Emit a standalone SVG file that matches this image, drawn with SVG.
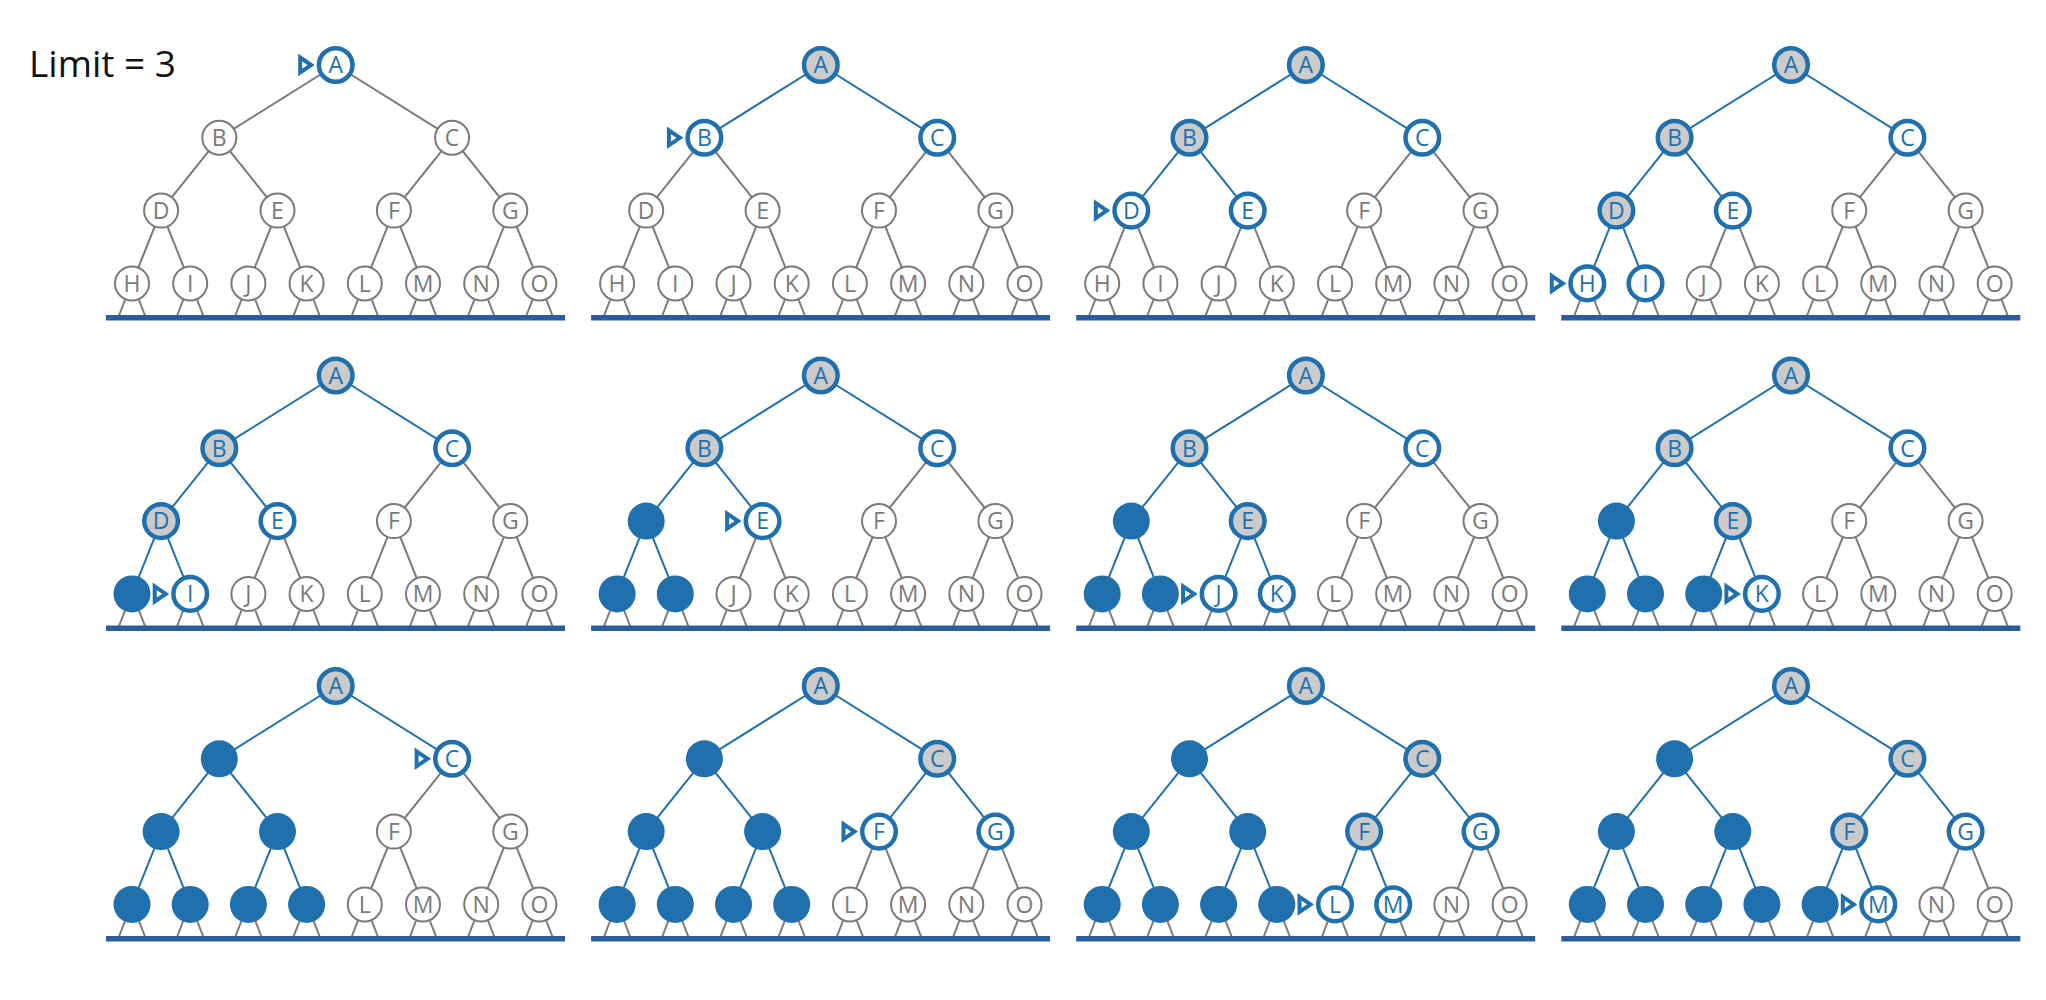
<svg xmlns="http://www.w3.org/2000/svg" xmlns:xlink="http://www.w3.org/1999/xlink" width="2046" height="1000" viewBox="0 0 2046 1000">
<style>
.eu{stroke:#7a7a7a;stroke-width:2}
.eb{stroke:#2170ae;stroke-width:2}
.leg{stroke:#7a7a7a;stroke-width:2}
.nu circle{fill:#fff;stroke:#7a7a7a;stroke-width:2}
.nf circle{fill:#fff;stroke:#2170ae;stroke-width:4.5}
.ne circle{fill:#cbcbcb;stroke:#2170ae;stroke-width:4.5}
.nd circle{fill:#2170ae}
text{font-family:"Open Sans","Noto Sans",sans-serif;font-size:23px;text-anchor:middle}
.nu text{fill:#7a7a7a}
.nf text,.ne text{fill:#2170ae}
.mk{fill:none;stroke:#2170ae;stroke-width:4;stroke-linejoin:miter}
.title{font-size:37px;text-anchor:start;fill:#111}
</style>
<defs>
<g id="base">
<g class="leg">
<line x1="125" y1="300" x2="119" y2="315.5"/><line x1="139" y1="300" x2="145" y2="315.5"/>
<line x1="183.2" y1="300" x2="177.2" y2="315.5"/><line x1="197.2" y1="300" x2="203.2" y2="315.5"/>
<line x1="241.4" y1="300" x2="235.4" y2="315.5"/><line x1="255.4" y1="300" x2="261.4" y2="315.5"/>
<line x1="299.6" y1="300" x2="293.6" y2="315.5"/><line x1="313.6" y1="300" x2="319.6" y2="315.5"/>
<line x1="357.8" y1="300" x2="351.8" y2="315.5"/><line x1="371.8" y1="300" x2="377.8" y2="315.5"/>
<line x1="416" y1="300" x2="410" y2="315.5"/><line x1="430" y1="300" x2="436" y2="315.5"/>
<line x1="474.2" y1="300" x2="468.2" y2="315.5"/><line x1="488.2" y1="300" x2="494.2" y2="315.5"/>
<line x1="532.4" y1="300" x2="526.4" y2="315.5"/><line x1="546.4" y1="300" x2="552.4" y2="315.5"/>
</g>
<rect x="106" y="315" width="459" height="5.5" fill="#2b5d9c"/>
</g>
<path id="mk" class="mk" d="M-35.5,-7.5 L-24.5,0 L-35.5,7.5 Z"/>
</defs>

<text class="title" x="29" y="77">Limit = 3</text>

<!-- Panel 1 -->
<g id="p1">
<use href="#base"/>
<g id="p1-edges">
<line class="eu" x1="335.7" y1="65" x2="219.3" y2="137.8"/><line class="eu" x1="335.7" y1="65" x2="452.1" y2="137.8"/>
<line class="eu" x1="219.3" y1="137.8" x2="161.1" y2="210.6"/><line class="eu" x1="219.3" y1="137.8" x2="277.5" y2="210.6"/>
<line class="eu" x1="452.1" y1="137.8" x2="393.9" y2="210.6"/><line class="eu" x1="452.1" y1="137.8" x2="510.3" y2="210.6"/>
<line class="eu" x1="161.1" y1="210.6" x2="132" y2="283.4"/><line class="eu" x1="161.1" y1="210.6" x2="190.2" y2="283.4"/>
<line class="eu" x1="277.5" y1="210.6" x2="248.4" y2="283.4"/><line class="eu" x1="277.5" y1="210.6" x2="306.6" y2="283.4"/>
<line class="eu" x1="393.9" y1="210.6" x2="364.8" y2="283.4"/><line class="eu" x1="393.9" y1="210.6" x2="423" y2="283.4"/>
<line class="eu" x1="510.3" y1="210.6" x2="481.2" y2="283.4"/><line class="eu" x1="510.3" y1="210.6" x2="539.4" y2="283.4"/>
</g>
<g id="p1-A" class="nf"><circle cx="335.7" cy="65" r="16.8"/><text x="335.7" y="73.2">A</text></g>
<g id="p1-B" class="nu"><circle cx="219.3" cy="137.8" r="17"/><text x="219.3" y="146">B</text></g>
<g id="p1-C" class="nu"><circle cx="452.1" cy="137.8" r="17"/><text x="452.1" y="146">C</text></g>
<g id="p1-D" class="nu"><circle cx="161.1" cy="210.6" r="17"/><text x="161.1" y="218.8">D</text></g>
<g id="p1-E" class="nu"><circle cx="277.5" cy="210.6" r="17"/><text x="277.5" y="218.8">E</text></g>
<g id="p1-F" class="nu"><circle cx="393.9" cy="210.6" r="17"/><text x="393.9" y="218.8">F</text></g>
<g id="p1-G" class="nu"><circle cx="510.3" cy="210.6" r="17"/><text x="510.3" y="218.8">G</text></g>
<g id="p1-H" class="nu"><circle cx="132" cy="283.4" r="17"/><text x="132" y="291.6">H</text></g>
<g id="p1-I" class="nu"><circle cx="190.2" cy="283.4" r="17"/><text x="190.2" y="291.6">I</text></g>
<g id="p1-J" class="nu"><circle cx="248.4" cy="283.4" r="17"/><text x="248.4" y="291.6">J</text></g>
<g id="p1-K" class="nu"><circle cx="306.6" cy="283.4" r="17"/><text x="306.6" y="291.6">K</text></g>
<g id="p1-L" class="nu"><circle cx="364.8" cy="283.4" r="17"/><text x="364.8" y="291.6">L</text></g>
<g id="p1-M" class="nu"><circle cx="423" cy="283.4" r="17"/><text x="423" y="291.6">M</text></g>
<g id="p1-N" class="nu"><circle cx="481.2" cy="283.4" r="17"/><text x="481.2" y="291.6">N</text></g>
<g id="p1-O" class="nu"><circle cx="539.4" cy="283.4" r="17"/><text x="539.4" y="291.6">O</text></g>
<use href="#mk" x="335.7" y="65"/>
</g>

<!-- Panel 2 -->
<g id="p2" transform="translate(485.1,0)">
<use href="#base"/>
<g id="p2-edges">
<line class="eb" x1="335.7" y1="65" x2="219.3" y2="137.8"/><line class="eb" x1="335.7" y1="65" x2="452.1" y2="137.8"/>
<line class="eu" x1="219.3" y1="137.8" x2="161.1" y2="210.6"/><line class="eu" x1="219.3" y1="137.8" x2="277.5" y2="210.6"/>
<line class="eu" x1="452.1" y1="137.8" x2="393.9" y2="210.6"/><line class="eu" x1="452.1" y1="137.8" x2="510.3" y2="210.6"/>
<line class="eu" x1="161.1" y1="210.6" x2="132" y2="283.4"/><line class="eu" x1="161.1" y1="210.6" x2="190.2" y2="283.4"/>
<line class="eu" x1="277.5" y1="210.6" x2="248.4" y2="283.4"/><line class="eu" x1="277.5" y1="210.6" x2="306.6" y2="283.4"/>
<line class="eu" x1="393.9" y1="210.6" x2="364.8" y2="283.4"/><line class="eu" x1="393.9" y1="210.6" x2="423" y2="283.4"/>
<line class="eu" x1="510.3" y1="210.6" x2="481.2" y2="283.4"/><line class="eu" x1="510.3" y1="210.6" x2="539.4" y2="283.4"/>
</g>
<g id="p2-A" class="ne"><circle cx="335.7" cy="65" r="16.8"/><text x="335.7" y="73.2">A</text></g>
<g id="p2-B" class="nf"><circle cx="219.3" cy="137.8" r="16.8"/><text x="219.3" y="146">B</text></g>
<g id="p2-C" class="nf"><circle cx="452.1" cy="137.8" r="16.8"/><text x="452.1" y="146">C</text></g>
<g id="p2-D" class="nu"><circle cx="161.1" cy="210.6" r="17"/><text x="161.1" y="218.8">D</text></g>
<g id="p2-E" class="nu"><circle cx="277.5" cy="210.6" r="17"/><text x="277.5" y="218.8">E</text></g>
<g id="p2-F" class="nu"><circle cx="393.9" cy="210.6" r="17"/><text x="393.9" y="218.8">F</text></g>
<g id="p2-G" class="nu"><circle cx="510.3" cy="210.6" r="17"/><text x="510.3" y="218.8">G</text></g>
<g id="p2-H" class="nu"><circle cx="132" cy="283.4" r="17"/><text x="132" y="291.6">H</text></g>
<g id="p2-I" class="nu"><circle cx="190.2" cy="283.4" r="17"/><text x="190.2" y="291.6">I</text></g>
<g id="p2-J" class="nu"><circle cx="248.4" cy="283.4" r="17"/><text x="248.4" y="291.6">J</text></g>
<g id="p2-K" class="nu"><circle cx="306.6" cy="283.4" r="17"/><text x="306.6" y="291.6">K</text></g>
<g id="p2-L" class="nu"><circle cx="364.8" cy="283.4" r="17"/><text x="364.8" y="291.6">L</text></g>
<g id="p2-M" class="nu"><circle cx="423" cy="283.4" r="17"/><text x="423" y="291.6">M</text></g>
<g id="p2-N" class="nu"><circle cx="481.2" cy="283.4" r="17"/><text x="481.2" y="291.6">N</text></g>
<g id="p2-O" class="nu"><circle cx="539.4" cy="283.4" r="17"/><text x="539.4" y="291.6">O</text></g>
<use href="#mk" x="219.3" y="137.8"/>
</g>

<!-- Panel 3 -->
<g id="p3" transform="translate(970.2,0)">
<use href="#base"/>
<g id="p3-edges">
<line class="eb" x1="335.7" y1="65" x2="219.3" y2="137.8"/><line class="eb" x1="335.7" y1="65" x2="452.1" y2="137.8"/>
<line class="eb" x1="219.3" y1="137.8" x2="161.1" y2="210.6"/><line class="eb" x1="219.3" y1="137.8" x2="277.5" y2="210.6"/>
<line class="eu" x1="452.1" y1="137.8" x2="393.9" y2="210.6"/><line class="eu" x1="452.1" y1="137.8" x2="510.3" y2="210.6"/>
<line class="eu" x1="161.1" y1="210.6" x2="132" y2="283.4"/><line class="eu" x1="161.1" y1="210.6" x2="190.2" y2="283.4"/>
<line class="eu" x1="277.5" y1="210.6" x2="248.4" y2="283.4"/><line class="eu" x1="277.5" y1="210.6" x2="306.6" y2="283.4"/>
<line class="eu" x1="393.9" y1="210.6" x2="364.8" y2="283.4"/><line class="eu" x1="393.9" y1="210.6" x2="423" y2="283.4"/>
<line class="eu" x1="510.3" y1="210.6" x2="481.2" y2="283.4"/><line class="eu" x1="510.3" y1="210.6" x2="539.4" y2="283.4"/>
</g>
<g id="p3-A" class="ne"><circle cx="335.7" cy="65" r="16.8"/><text x="335.7" y="73.2">A</text></g>
<g id="p3-B" class="ne"><circle cx="219.3" cy="137.8" r="16.8"/><text x="219.3" y="146">B</text></g>
<g id="p3-C" class="nf"><circle cx="452.1" cy="137.8" r="16.8"/><text x="452.1" y="146">C</text></g>
<g id="p3-D" class="nf"><circle cx="161.1" cy="210.6" r="16.8"/><text x="161.1" y="218.8">D</text></g>
<g id="p3-E" class="nf"><circle cx="277.5" cy="210.6" r="16.8"/><text x="277.5" y="218.8">E</text></g>
<g id="p3-F" class="nu"><circle cx="393.9" cy="210.6" r="17"/><text x="393.9" y="218.8">F</text></g>
<g id="p3-G" class="nu"><circle cx="510.3" cy="210.6" r="17"/><text x="510.3" y="218.8">G</text></g>
<g id="p3-H" class="nu"><circle cx="132" cy="283.4" r="17"/><text x="132" y="291.6">H</text></g>
<g id="p3-I" class="nu"><circle cx="190.2" cy="283.4" r="17"/><text x="190.2" y="291.6">I</text></g>
<g id="p3-J" class="nu"><circle cx="248.4" cy="283.4" r="17"/><text x="248.4" y="291.6">J</text></g>
<g id="p3-K" class="nu"><circle cx="306.6" cy="283.4" r="17"/><text x="306.6" y="291.6">K</text></g>
<g id="p3-L" class="nu"><circle cx="364.8" cy="283.4" r="17"/><text x="364.8" y="291.6">L</text></g>
<g id="p3-M" class="nu"><circle cx="423" cy="283.4" r="17"/><text x="423" y="291.6">M</text></g>
<g id="p3-N" class="nu"><circle cx="481.2" cy="283.4" r="17"/><text x="481.2" y="291.6">N</text></g>
<g id="p3-O" class="nu"><circle cx="539.4" cy="283.4" r="17"/><text x="539.4" y="291.6">O</text></g>
<use href="#mk" x="161.1" y="210.6"/>
</g>

<!-- Panel 4 -->
<g id="p4" transform="translate(1455.3,0)">
<use href="#base"/>
<g id="p4-edges">
<line class="eb" x1="335.7" y1="65" x2="219.3" y2="137.8"/><line class="eb" x1="335.7" y1="65" x2="452.1" y2="137.8"/>
<line class="eb" x1="219.3" y1="137.8" x2="161.1" y2="210.6"/><line class="eb" x1="219.3" y1="137.8" x2="277.5" y2="210.6"/>
<line class="eu" x1="452.1" y1="137.8" x2="393.9" y2="210.6"/><line class="eu" x1="452.1" y1="137.8" x2="510.3" y2="210.6"/>
<line class="eb" x1="161.1" y1="210.6" x2="132" y2="283.4"/><line class="eb" x1="161.1" y1="210.6" x2="190.2" y2="283.4"/>
<line class="eu" x1="277.5" y1="210.6" x2="248.4" y2="283.4"/><line class="eu" x1="277.5" y1="210.6" x2="306.6" y2="283.4"/>
<line class="eu" x1="393.9" y1="210.6" x2="364.8" y2="283.4"/><line class="eu" x1="393.9" y1="210.6" x2="423" y2="283.4"/>
<line class="eu" x1="510.3" y1="210.6" x2="481.2" y2="283.4"/><line class="eu" x1="510.3" y1="210.6" x2="539.4" y2="283.4"/>
</g>
<g id="p4-A" class="ne"><circle cx="335.7" cy="65" r="16.8"/><text x="335.7" y="73.2">A</text></g>
<g id="p4-B" class="ne"><circle cx="219.3" cy="137.8" r="16.8"/><text x="219.3" y="146">B</text></g>
<g id="p4-C" class="nf"><circle cx="452.1" cy="137.8" r="16.8"/><text x="452.1" y="146">C</text></g>
<g id="p4-D" class="ne"><circle cx="161.1" cy="210.6" r="16.8"/><text x="161.1" y="218.8">D</text></g>
<g id="p4-E" class="nf"><circle cx="277.5" cy="210.6" r="16.8"/><text x="277.5" y="218.8">E</text></g>
<g id="p4-F" class="nu"><circle cx="393.9" cy="210.6" r="17"/><text x="393.9" y="218.8">F</text></g>
<g id="p4-G" class="nu"><circle cx="510.3" cy="210.6" r="17"/><text x="510.3" y="218.8">G</text></g>
<g id="p4-H" class="nf"><circle cx="132" cy="283.4" r="16.8"/><text x="132" y="291.6">H</text></g>
<g id="p4-I" class="nf"><circle cx="190.2" cy="283.4" r="16.8"/><text x="190.2" y="291.6">I</text></g>
<g id="p4-J" class="nu"><circle cx="248.4" cy="283.4" r="17"/><text x="248.4" y="291.6">J</text></g>
<g id="p4-K" class="nu"><circle cx="306.6" cy="283.4" r="17"/><text x="306.6" y="291.6">K</text></g>
<g id="p4-L" class="nu"><circle cx="364.8" cy="283.4" r="17"/><text x="364.8" y="291.6">L</text></g>
<g id="p4-M" class="nu"><circle cx="423" cy="283.4" r="17"/><text x="423" y="291.6">M</text></g>
<g id="p4-N" class="nu"><circle cx="481.2" cy="283.4" r="17"/><text x="481.2" y="291.6">N</text></g>
<g id="p4-O" class="nu"><circle cx="539.4" cy="283.4" r="17"/><text x="539.4" y="291.6">O</text></g>
<use href="#mk" x="132" y="283.4"/>
</g>

<!-- Panel 5 -->
<g id="p5" transform="translate(0,310.5)">
<use href="#base"/>
<g id="p5-edges">
<line class="eb" x1="335.7" y1="65" x2="219.3" y2="137.8"/><line class="eb" x1="335.7" y1="65" x2="452.1" y2="137.8"/>
<line class="eb" x1="219.3" y1="137.8" x2="161.1" y2="210.6"/><line class="eb" x1="219.3" y1="137.8" x2="277.5" y2="210.6"/>
<line class="eu" x1="452.1" y1="137.8" x2="393.9" y2="210.6"/><line class="eu" x1="452.1" y1="137.8" x2="510.3" y2="210.6"/>
<line class="eb" x1="161.1" y1="210.6" x2="132" y2="283.4"/><line class="eb" x1="161.1" y1="210.6" x2="190.2" y2="283.4"/>
<line class="eu" x1="277.5" y1="210.6" x2="248.4" y2="283.4"/><line class="eu" x1="277.5" y1="210.6" x2="306.6" y2="283.4"/>
<line class="eu" x1="393.9" y1="210.6" x2="364.8" y2="283.4"/><line class="eu" x1="393.9" y1="210.6" x2="423" y2="283.4"/>
<line class="eu" x1="510.3" y1="210.6" x2="481.2" y2="283.4"/><line class="eu" x1="510.3" y1="210.6" x2="539.4" y2="283.4"/>
</g>
<g id="p5-A" class="ne"><circle cx="335.7" cy="65" r="16.8"/><text x="335.7" y="73.2">A</text></g>
<g id="p5-B" class="ne"><circle cx="219.3" cy="137.8" r="16.8"/><text x="219.3" y="146">B</text></g>
<g id="p5-C" class="nf"><circle cx="452.1" cy="137.8" r="16.8"/><text x="452.1" y="146">C</text></g>
<g id="p5-D" class="ne"><circle cx="161.1" cy="210.6" r="16.8"/><text x="161.1" y="218.8">D</text></g>
<g id="p5-E" class="nf"><circle cx="277.5" cy="210.6" r="16.8"/><text x="277.5" y="218.8">E</text></g>
<g id="p5-F" class="nu"><circle cx="393.9" cy="210.6" r="17"/><text x="393.9" y="218.8">F</text></g>
<g id="p5-G" class="nu"><circle cx="510.3" cy="210.6" r="17"/><text x="510.3" y="218.8">G</text></g>
<g id="p5-H" class="nd"><circle cx="132" cy="283.4" r="18.5"/></g>
<g id="p5-I" class="nf"><circle cx="190.2" cy="283.4" r="16.8"/><text x="190.2" y="291.6">I</text></g>
<g id="p5-J" class="nu"><circle cx="248.4" cy="283.4" r="17"/><text x="248.4" y="291.6">J</text></g>
<g id="p5-K" class="nu"><circle cx="306.6" cy="283.4" r="17"/><text x="306.6" y="291.6">K</text></g>
<g id="p5-L" class="nu"><circle cx="364.8" cy="283.4" r="17"/><text x="364.8" y="291.6">L</text></g>
<g id="p5-M" class="nu"><circle cx="423" cy="283.4" r="17"/><text x="423" y="291.6">M</text></g>
<g id="p5-N" class="nu"><circle cx="481.2" cy="283.4" r="17"/><text x="481.2" y="291.6">N</text></g>
<g id="p5-O" class="nu"><circle cx="539.4" cy="283.4" r="17"/><text x="539.4" y="291.6">O</text></g>
<use href="#mk" x="190.2" y="283.4"/>
</g>

<!-- Panel 6 -->
<g id="p6" transform="translate(485.1,310.5)">
<use href="#base"/>
<g id="p6-edges">
<line class="eb" x1="335.7" y1="65" x2="219.3" y2="137.8"/><line class="eb" x1="335.7" y1="65" x2="452.1" y2="137.8"/>
<line class="eb" x1="219.3" y1="137.8" x2="161.1" y2="210.6"/><line class="eb" x1="219.3" y1="137.8" x2="277.5" y2="210.6"/>
<line class="eu" x1="452.1" y1="137.8" x2="393.9" y2="210.6"/><line class="eu" x1="452.1" y1="137.8" x2="510.3" y2="210.6"/>
<line class="eb" x1="161.1" y1="210.6" x2="132" y2="283.4"/><line class="eb" x1="161.1" y1="210.6" x2="190.2" y2="283.4"/>
<line class="eu" x1="277.5" y1="210.6" x2="248.4" y2="283.4"/><line class="eu" x1="277.5" y1="210.6" x2="306.6" y2="283.4"/>
<line class="eu" x1="393.9" y1="210.6" x2="364.8" y2="283.4"/><line class="eu" x1="393.9" y1="210.6" x2="423" y2="283.4"/>
<line class="eu" x1="510.3" y1="210.6" x2="481.2" y2="283.4"/><line class="eu" x1="510.3" y1="210.6" x2="539.4" y2="283.4"/>
</g>
<g id="p6-A" class="ne"><circle cx="335.7" cy="65" r="16.8"/><text x="335.7" y="73.2">A</text></g>
<g id="p6-B" class="ne"><circle cx="219.3" cy="137.8" r="16.8"/><text x="219.3" y="146">B</text></g>
<g id="p6-C" class="nf"><circle cx="452.1" cy="137.8" r="16.8"/><text x="452.1" y="146">C</text></g>
<g id="p6-D" class="nd"><circle cx="161.1" cy="210.6" r="18.5"/></g>
<g id="p6-E" class="nf"><circle cx="277.5" cy="210.6" r="16.8"/><text x="277.5" y="218.8">E</text></g>
<g id="p6-F" class="nu"><circle cx="393.9" cy="210.6" r="17"/><text x="393.9" y="218.8">F</text></g>
<g id="p6-G" class="nu"><circle cx="510.3" cy="210.6" r="17"/><text x="510.3" y="218.8">G</text></g>
<g id="p6-H" class="nd"><circle cx="132" cy="283.4" r="18.5"/></g>
<g id="p6-I" class="nd"><circle cx="190.2" cy="283.4" r="18.5"/></g>
<g id="p6-J" class="nu"><circle cx="248.4" cy="283.4" r="17"/><text x="248.4" y="291.6">J</text></g>
<g id="p6-K" class="nu"><circle cx="306.6" cy="283.4" r="17"/><text x="306.6" y="291.6">K</text></g>
<g id="p6-L" class="nu"><circle cx="364.8" cy="283.4" r="17"/><text x="364.8" y="291.6">L</text></g>
<g id="p6-M" class="nu"><circle cx="423" cy="283.4" r="17"/><text x="423" y="291.6">M</text></g>
<g id="p6-N" class="nu"><circle cx="481.2" cy="283.4" r="17"/><text x="481.2" y="291.6">N</text></g>
<g id="p6-O" class="nu"><circle cx="539.4" cy="283.4" r="17"/><text x="539.4" y="291.6">O</text></g>
<use href="#mk" x="277.5" y="210.6"/>
</g>

<!-- Panel 7 -->
<g id="p7" transform="translate(970.2,310.5)">
<use href="#base"/>
<g id="p7-edges">
<line class="eb" x1="335.7" y1="65" x2="219.3" y2="137.8"/><line class="eb" x1="335.7" y1="65" x2="452.1" y2="137.8"/>
<line class="eb" x1="219.3" y1="137.8" x2="161.1" y2="210.6"/><line class="eb" x1="219.3" y1="137.8" x2="277.5" y2="210.6"/>
<line class="eu" x1="452.1" y1="137.8" x2="393.9" y2="210.6"/><line class="eu" x1="452.1" y1="137.8" x2="510.3" y2="210.6"/>
<line class="eb" x1="161.1" y1="210.6" x2="132" y2="283.4"/><line class="eb" x1="161.1" y1="210.6" x2="190.2" y2="283.4"/>
<line class="eb" x1="277.5" y1="210.6" x2="248.4" y2="283.4"/><line class="eb" x1="277.5" y1="210.6" x2="306.6" y2="283.4"/>
<line class="eu" x1="393.9" y1="210.6" x2="364.8" y2="283.4"/><line class="eu" x1="393.9" y1="210.6" x2="423" y2="283.4"/>
<line class="eu" x1="510.3" y1="210.6" x2="481.2" y2="283.4"/><line class="eu" x1="510.3" y1="210.6" x2="539.4" y2="283.4"/>
</g>
<g id="p7-A" class="ne"><circle cx="335.7" cy="65" r="16.8"/><text x="335.7" y="73.2">A</text></g>
<g id="p7-B" class="ne"><circle cx="219.3" cy="137.8" r="16.8"/><text x="219.3" y="146">B</text></g>
<g id="p7-C" class="nf"><circle cx="452.1" cy="137.8" r="16.8"/><text x="452.1" y="146">C</text></g>
<g id="p7-D" class="nd"><circle cx="161.1" cy="210.6" r="18.5"/></g>
<g id="p7-E" class="ne"><circle cx="277.5" cy="210.6" r="16.8"/><text x="277.5" y="218.8">E</text></g>
<g id="p7-F" class="nu"><circle cx="393.9" cy="210.6" r="17"/><text x="393.9" y="218.8">F</text></g>
<g id="p7-G" class="nu"><circle cx="510.3" cy="210.6" r="17"/><text x="510.3" y="218.8">G</text></g>
<g id="p7-H" class="nd"><circle cx="132" cy="283.4" r="18.5"/></g>
<g id="p7-I" class="nd"><circle cx="190.2" cy="283.4" r="18.5"/></g>
<g id="p7-J" class="nf"><circle cx="248.4" cy="283.4" r="16.8"/><text x="248.4" y="291.6">J</text></g>
<g id="p7-K" class="nf"><circle cx="306.6" cy="283.4" r="16.8"/><text x="306.6" y="291.6">K</text></g>
<g id="p7-L" class="nu"><circle cx="364.8" cy="283.4" r="17"/><text x="364.8" y="291.6">L</text></g>
<g id="p7-M" class="nu"><circle cx="423" cy="283.4" r="17"/><text x="423" y="291.6">M</text></g>
<g id="p7-N" class="nu"><circle cx="481.2" cy="283.4" r="17"/><text x="481.2" y="291.6">N</text></g>
<g id="p7-O" class="nu"><circle cx="539.4" cy="283.4" r="17"/><text x="539.4" y="291.6">O</text></g>
<use href="#mk" x="248.4" y="283.4"/>
</g>

<!-- Panel 8 -->
<g id="p8" transform="translate(1455.3,310.5)">
<use href="#base"/>
<g id="p8-edges">
<line class="eb" x1="335.7" y1="65" x2="219.3" y2="137.8"/><line class="eb" x1="335.7" y1="65" x2="452.1" y2="137.8"/>
<line class="eb" x1="219.3" y1="137.8" x2="161.1" y2="210.6"/><line class="eb" x1="219.3" y1="137.8" x2="277.5" y2="210.6"/>
<line class="eu" x1="452.1" y1="137.8" x2="393.9" y2="210.6"/><line class="eu" x1="452.1" y1="137.8" x2="510.3" y2="210.6"/>
<line class="eb" x1="161.1" y1="210.6" x2="132" y2="283.4"/><line class="eb" x1="161.1" y1="210.6" x2="190.2" y2="283.4"/>
<line class="eb" x1="277.5" y1="210.6" x2="248.4" y2="283.4"/><line class="eb" x1="277.5" y1="210.6" x2="306.6" y2="283.4"/>
<line class="eu" x1="393.9" y1="210.6" x2="364.8" y2="283.4"/><line class="eu" x1="393.9" y1="210.6" x2="423" y2="283.4"/>
<line class="eu" x1="510.3" y1="210.6" x2="481.2" y2="283.4"/><line class="eu" x1="510.3" y1="210.6" x2="539.4" y2="283.4"/>
</g>
<g id="p8-A" class="ne"><circle cx="335.7" cy="65" r="16.8"/><text x="335.7" y="73.2">A</text></g>
<g id="p8-B" class="ne"><circle cx="219.3" cy="137.8" r="16.8"/><text x="219.3" y="146">B</text></g>
<g id="p8-C" class="nf"><circle cx="452.1" cy="137.8" r="16.8"/><text x="452.1" y="146">C</text></g>
<g id="p8-D" class="nd"><circle cx="161.1" cy="210.6" r="18.5"/></g>
<g id="p8-E" class="ne"><circle cx="277.5" cy="210.6" r="16.8"/><text x="277.5" y="218.8">E</text></g>
<g id="p8-F" class="nu"><circle cx="393.9" cy="210.6" r="17"/><text x="393.9" y="218.8">F</text></g>
<g id="p8-G" class="nu"><circle cx="510.3" cy="210.6" r="17"/><text x="510.3" y="218.8">G</text></g>
<g id="p8-H" class="nd"><circle cx="132" cy="283.4" r="18.5"/></g>
<g id="p8-I" class="nd"><circle cx="190.2" cy="283.4" r="18.5"/></g>
<g id="p8-J" class="nd"><circle cx="248.4" cy="283.4" r="18.5"/></g>
<g id="p8-K" class="nf"><circle cx="306.6" cy="283.4" r="16.8"/><text x="306.6" y="291.6">K</text></g>
<g id="p8-L" class="nu"><circle cx="364.8" cy="283.4" r="17"/><text x="364.8" y="291.6">L</text></g>
<g id="p8-M" class="nu"><circle cx="423" cy="283.4" r="17"/><text x="423" y="291.6">M</text></g>
<g id="p8-N" class="nu"><circle cx="481.2" cy="283.4" r="17"/><text x="481.2" y="291.6">N</text></g>
<g id="p8-O" class="nu"><circle cx="539.4" cy="283.4" r="17"/><text x="539.4" y="291.6">O</text></g>
<use href="#mk" x="306.6" y="283.4"/>
</g>

<!-- Panel 9 -->
<g id="p9" transform="translate(0,621)">
<use href="#base"/>
<g id="p9-edges">
<line class="eb" x1="335.7" y1="65" x2="219.3" y2="137.8"/><line class="eb" x1="335.7" y1="65" x2="452.1" y2="137.8"/>
<line class="eb" x1="219.3" y1="137.8" x2="161.1" y2="210.6"/><line class="eb" x1="219.3" y1="137.8" x2="277.5" y2="210.6"/>
<line class="eu" x1="452.1" y1="137.8" x2="393.9" y2="210.6"/><line class="eu" x1="452.1" y1="137.8" x2="510.3" y2="210.6"/>
<line class="eb" x1="161.1" y1="210.6" x2="132" y2="283.4"/><line class="eb" x1="161.1" y1="210.6" x2="190.2" y2="283.4"/>
<line class="eb" x1="277.5" y1="210.6" x2="248.4" y2="283.4"/><line class="eb" x1="277.5" y1="210.6" x2="306.6" y2="283.4"/>
<line class="eu" x1="393.9" y1="210.6" x2="364.8" y2="283.4"/><line class="eu" x1="393.9" y1="210.6" x2="423" y2="283.4"/>
<line class="eu" x1="510.3" y1="210.6" x2="481.2" y2="283.4"/><line class="eu" x1="510.3" y1="210.6" x2="539.4" y2="283.4"/>
</g>
<g id="p9-A" class="ne"><circle cx="335.7" cy="65" r="16.8"/><text x="335.7" y="73.2">A</text></g>
<g id="p9-B" class="nd"><circle cx="219.3" cy="137.8" r="18.5"/></g>
<g id="p9-C" class="nf"><circle cx="452.1" cy="137.8" r="16.8"/><text x="452.1" y="146">C</text></g>
<g id="p9-D" class="nd"><circle cx="161.1" cy="210.6" r="18.5"/></g>
<g id="p9-E" class="nd"><circle cx="277.5" cy="210.6" r="18.5"/></g>
<g id="p9-F" class="nu"><circle cx="393.9" cy="210.6" r="17"/><text x="393.9" y="218.8">F</text></g>
<g id="p9-G" class="nu"><circle cx="510.3" cy="210.6" r="17"/><text x="510.3" y="218.8">G</text></g>
<g id="p9-H" class="nd"><circle cx="132" cy="283.4" r="18.5"/></g>
<g id="p9-I" class="nd"><circle cx="190.2" cy="283.4" r="18.5"/></g>
<g id="p9-J" class="nd"><circle cx="248.4" cy="283.4" r="18.5"/></g>
<g id="p9-K" class="nd"><circle cx="306.6" cy="283.4" r="18.5"/></g>
<g id="p9-L" class="nu"><circle cx="364.8" cy="283.4" r="17"/><text x="364.8" y="291.6">L</text></g>
<g id="p9-M" class="nu"><circle cx="423" cy="283.4" r="17"/><text x="423" y="291.6">M</text></g>
<g id="p9-N" class="nu"><circle cx="481.2" cy="283.4" r="17"/><text x="481.2" y="291.6">N</text></g>
<g id="p9-O" class="nu"><circle cx="539.4" cy="283.4" r="17"/><text x="539.4" y="291.6">O</text></g>
<use href="#mk" x="452.1" y="137.8"/>
</g>

<!-- Panel 10 -->
<g id="p10" transform="translate(485.1,621)">
<use href="#base"/>
<g id="p10-edges">
<line class="eb" x1="335.7" y1="65" x2="219.3" y2="137.8"/><line class="eb" x1="335.7" y1="65" x2="452.1" y2="137.8"/>
<line class="eb" x1="219.3" y1="137.8" x2="161.1" y2="210.6"/><line class="eb" x1="219.3" y1="137.8" x2="277.5" y2="210.6"/>
<line class="eb" x1="452.1" y1="137.8" x2="393.9" y2="210.6"/><line class="eb" x1="452.1" y1="137.8" x2="510.3" y2="210.6"/>
<line class="eb" x1="161.1" y1="210.6" x2="132" y2="283.4"/><line class="eb" x1="161.1" y1="210.6" x2="190.2" y2="283.4"/>
<line class="eb" x1="277.5" y1="210.6" x2="248.4" y2="283.4"/><line class="eb" x1="277.5" y1="210.6" x2="306.6" y2="283.4"/>
<line class="eu" x1="393.9" y1="210.6" x2="364.8" y2="283.4"/><line class="eu" x1="393.9" y1="210.6" x2="423" y2="283.4"/>
<line class="eu" x1="510.3" y1="210.6" x2="481.2" y2="283.4"/><line class="eu" x1="510.3" y1="210.6" x2="539.4" y2="283.4"/>
</g>
<g id="p10-A" class="ne"><circle cx="335.7" cy="65" r="16.8"/><text x="335.7" y="73.2">A</text></g>
<g id="p10-B" class="nd"><circle cx="219.3" cy="137.8" r="18.5"/></g>
<g id="p10-C" class="ne"><circle cx="452.1" cy="137.8" r="16.8"/><text x="452.1" y="146">C</text></g>
<g id="p10-D" class="nd"><circle cx="161.1" cy="210.6" r="18.5"/></g>
<g id="p10-E" class="nd"><circle cx="277.5" cy="210.6" r="18.5"/></g>
<g id="p10-F" class="nf"><circle cx="393.9" cy="210.6" r="16.8"/><text x="393.9" y="218.8">F</text></g>
<g id="p10-G" class="nf"><circle cx="510.3" cy="210.6" r="16.8"/><text x="510.3" y="218.8">G</text></g>
<g id="p10-H" class="nd"><circle cx="132" cy="283.4" r="18.5"/></g>
<g id="p10-I" class="nd"><circle cx="190.2" cy="283.4" r="18.5"/></g>
<g id="p10-J" class="nd"><circle cx="248.4" cy="283.4" r="18.5"/></g>
<g id="p10-K" class="nd"><circle cx="306.6" cy="283.4" r="18.5"/></g>
<g id="p10-L" class="nu"><circle cx="364.8" cy="283.4" r="17"/><text x="364.8" y="291.6">L</text></g>
<g id="p10-M" class="nu"><circle cx="423" cy="283.4" r="17"/><text x="423" y="291.6">M</text></g>
<g id="p10-N" class="nu"><circle cx="481.2" cy="283.4" r="17"/><text x="481.2" y="291.6">N</text></g>
<g id="p10-O" class="nu"><circle cx="539.4" cy="283.4" r="17"/><text x="539.4" y="291.6">O</text></g>
<use href="#mk" x="393.9" y="210.6"/>
</g>

<!-- Panel 11 -->
<g id="p11" transform="translate(970.2,621)">
<use href="#base"/>
<g id="p11-edges">
<line class="eb" x1="335.7" y1="65" x2="219.3" y2="137.8"/><line class="eb" x1="335.7" y1="65" x2="452.1" y2="137.8"/>
<line class="eb" x1="219.3" y1="137.8" x2="161.1" y2="210.6"/><line class="eb" x1="219.3" y1="137.8" x2="277.5" y2="210.6"/>
<line class="eb" x1="452.1" y1="137.8" x2="393.9" y2="210.6"/><line class="eb" x1="452.1" y1="137.8" x2="510.3" y2="210.6"/>
<line class="eb" x1="161.1" y1="210.6" x2="132" y2="283.4"/><line class="eb" x1="161.1" y1="210.6" x2="190.2" y2="283.4"/>
<line class="eb" x1="277.5" y1="210.6" x2="248.4" y2="283.4"/><line class="eb" x1="277.5" y1="210.6" x2="306.6" y2="283.4"/>
<line class="eb" x1="393.9" y1="210.6" x2="364.8" y2="283.4"/><line class="eb" x1="393.9" y1="210.6" x2="423" y2="283.4"/>
<line class="eu" x1="510.3" y1="210.6" x2="481.2" y2="283.4"/><line class="eu" x1="510.3" y1="210.6" x2="539.4" y2="283.4"/>
</g>
<g id="p11-A" class="ne"><circle cx="335.7" cy="65" r="16.8"/><text x="335.7" y="73.2">A</text></g>
<g id="p11-B" class="nd"><circle cx="219.3" cy="137.8" r="18.5"/></g>
<g id="p11-C" class="ne"><circle cx="452.1" cy="137.8" r="16.8"/><text x="452.1" y="146">C</text></g>
<g id="p11-D" class="nd"><circle cx="161.1" cy="210.6" r="18.5"/></g>
<g id="p11-E" class="nd"><circle cx="277.5" cy="210.6" r="18.5"/></g>
<g id="p11-F" class="ne"><circle cx="393.9" cy="210.6" r="16.8"/><text x="393.9" y="218.8">F</text></g>
<g id="p11-G" class="nf"><circle cx="510.3" cy="210.6" r="16.8"/><text x="510.3" y="218.8">G</text></g>
<g id="p11-H" class="nd"><circle cx="132" cy="283.4" r="18.5"/></g>
<g id="p11-I" class="nd"><circle cx="190.2" cy="283.4" r="18.5"/></g>
<g id="p11-J" class="nd"><circle cx="248.4" cy="283.4" r="18.5"/></g>
<g id="p11-K" class="nd"><circle cx="306.6" cy="283.4" r="18.5"/></g>
<g id="p11-L" class="nf"><circle cx="364.8" cy="283.4" r="16.8"/><text x="364.8" y="291.6">L</text></g>
<g id="p11-M" class="nf"><circle cx="423" cy="283.4" r="16.8"/><text x="423" y="291.6">M</text></g>
<g id="p11-N" class="nu"><circle cx="481.2" cy="283.4" r="17"/><text x="481.2" y="291.6">N</text></g>
<g id="p11-O" class="nu"><circle cx="539.4" cy="283.4" r="17"/><text x="539.4" y="291.6">O</text></g>
<use href="#mk" x="364.8" y="283.4"/>
</g>

<!-- Panel 12 -->
<g id="p12" transform="translate(1455.3,621)">
<use href="#base"/>
<g id="p12-edges">
<line class="eb" x1="335.7" y1="65" x2="219.3" y2="137.8"/><line class="eb" x1="335.7" y1="65" x2="452.1" y2="137.8"/>
<line class="eb" x1="219.3" y1="137.8" x2="161.1" y2="210.6"/><line class="eb" x1="219.3" y1="137.8" x2="277.5" y2="210.6"/>
<line class="eb" x1="452.1" y1="137.8" x2="393.9" y2="210.6"/><line class="eb" x1="452.1" y1="137.8" x2="510.3" y2="210.6"/>
<line class="eb" x1="161.1" y1="210.6" x2="132" y2="283.4"/><line class="eb" x1="161.1" y1="210.6" x2="190.2" y2="283.4"/>
<line class="eb" x1="277.5" y1="210.6" x2="248.4" y2="283.4"/><line class="eb" x1="277.5" y1="210.6" x2="306.6" y2="283.4"/>
<line class="eb" x1="393.9" y1="210.6" x2="364.8" y2="283.4"/><line class="eb" x1="393.9" y1="210.6" x2="423" y2="283.4"/>
<line class="eu" x1="510.3" y1="210.6" x2="481.2" y2="283.4"/><line class="eu" x1="510.3" y1="210.6" x2="539.4" y2="283.4"/>
</g>
<g id="p12-A" class="ne"><circle cx="335.7" cy="65" r="16.8"/><text x="335.7" y="73.2">A</text></g>
<g id="p12-B" class="nd"><circle cx="219.3" cy="137.8" r="18.5"/></g>
<g id="p12-C" class="ne"><circle cx="452.1" cy="137.8" r="16.8"/><text x="452.1" y="146">C</text></g>
<g id="p12-D" class="nd"><circle cx="161.1" cy="210.6" r="18.5"/></g>
<g id="p12-E" class="nd"><circle cx="277.5" cy="210.6" r="18.5"/></g>
<g id="p12-F" class="ne"><circle cx="393.9" cy="210.6" r="16.8"/><text x="393.9" y="218.8">F</text></g>
<g id="p12-G" class="nf"><circle cx="510.3" cy="210.6" r="16.8"/><text x="510.3" y="218.8">G</text></g>
<g id="p12-H" class="nd"><circle cx="132" cy="283.4" r="18.5"/></g>
<g id="p12-I" class="nd"><circle cx="190.2" cy="283.4" r="18.5"/></g>
<g id="p12-J" class="nd"><circle cx="248.4" cy="283.4" r="18.5"/></g>
<g id="p12-K" class="nd"><circle cx="306.6" cy="283.4" r="18.5"/></g>
<g id="p12-L" class="nd"><circle cx="364.8" cy="283.4" r="18.5"/></g>
<g id="p12-M" class="nf"><circle cx="423" cy="283.4" r="16.8"/><text x="423" y="291.6">M</text></g>
<g id="p12-N" class="nu"><circle cx="481.2" cy="283.4" r="17"/><text x="481.2" y="291.6">N</text></g>
<g id="p12-O" class="nu"><circle cx="539.4" cy="283.4" r="17"/><text x="539.4" y="291.6">O</text></g>
<use href="#mk" x="423" y="283.4"/>
</g>
</svg>
